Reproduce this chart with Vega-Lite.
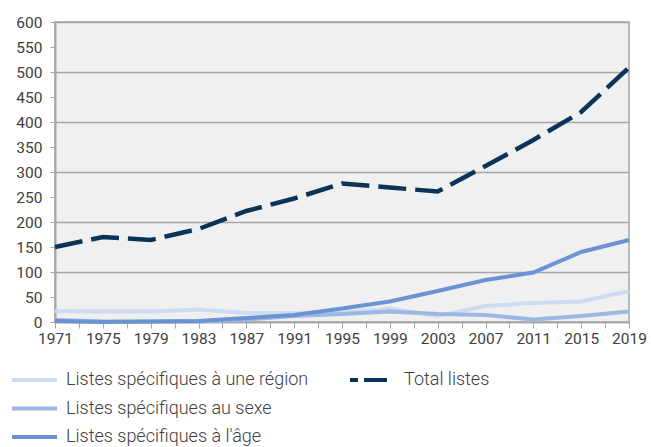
{
  "$schema": "https://vega.github.io/schema/vega-lite/v6.json",
  "width": 574,
  "height": 300,
  "autosize": {"type": "none"},
  "padding": {"left": 55, "top": 22, "right": 22, "bottom": 125},
  "background": "#ffffff",
  "config": {
    "view": {"fill": "#f0f0f0", "stroke": "#a6a6a6", "strokeWidth": 1.5},
    "font": "Roboto",
    "axis": {"labelFont": "Roboto", "labelFontSize": 15.5, "labelColor": "#404040", "titleFontSize": 0},
    "legend": {"labelFont": "Roboto", "labelFontSize": 18, "labelFontWeight": 300, "labelColor": "#404040", "labelLimit": 0}
  },
  "data": {"values": [
    {"year": 1971, "series": "Listes spécifiques à une région", "value": 22},
    {"year": 1975, "series": "Listes spécifiques à une région", "value": 21},
    {"year": 1979, "series": "Listes spécifiques à une région", "value": 21},
    {"year": 1983, "series": "Listes spécifiques à une région", "value": 25},
    {"year": 1987, "series": "Listes spécifiques à une région", "value": 18},
    {"year": 1991, "series": "Listes spécifiques à une région", "value": 18},
    {"year": 1995, "series": "Listes spécifiques à une région", "value": 19},
    {"year": 1999, "series": "Listes spécifiques à une région", "value": 27},
    {"year": 2003, "series": "Listes spécifiques à une région", "value": 12},
    {"year": 2007, "series": "Listes spécifiques à une région", "value": 32},
    {"year": 2011, "series": "Listes spécifiques à une région", "value": 38},
    {"year": 2015, "series": "Listes spécifiques à une région", "value": 41},
    {"year": 2019, "series": "Listes spécifiques à une région", "value": 62},
    {"year": 1971, "series": "Listes spécifiques au sexe", "value": 4},
    {"year": 1975, "series": "Listes spécifiques au sexe", "value": 1},
    {"year": 1979, "series": "Listes spécifiques au sexe", "value": 1},
    {"year": 1983, "series": "Listes spécifiques au sexe", "value": 1},
    {"year": 1987, "series": "Listes spécifiques au sexe", "value": 5},
    {"year": 1991, "series": "Listes spécifiques au sexe", "value": 12},
    {"year": 1995, "series": "Listes spécifiques au sexe", "value": 16},
    {"year": 1999, "series": "Listes spécifiques au sexe", "value": 21},
    {"year": 2003, "series": "Listes spécifiques au sexe", "value": 16},
    {"year": 2007, "series": "Listes spécifiques au sexe", "value": 14},
    {"year": 2011, "series": "Listes spécifiques au sexe", "value": 5},
    {"year": 2015, "series": "Listes spécifiques au sexe", "value": 12},
    {"year": 2019, "series": "Listes spécifiques au sexe", "value": 21},
    {"year": 1971, "series": "Listes spécifiques à l'âge", "value": 2},
    {"year": 1975, "series": "Listes spécifiques à l'âge", "value": 0},
    {"year": 1979, "series": "Listes spécifiques à l'âge", "value": 1},
    {"year": 1983, "series": "Listes spécifiques à l'âge", "value": 2},
    {"year": 1987, "series": "Listes spécifiques à l'âge", "value": 8},
    {"year": 1991, "series": "Listes spécifiques à l'âge", "value": 14},
    {"year": 1995, "series": "Listes spécifiques à l'âge", "value": 27},
    {"year": 1999, "series": "Listes spécifiques à l'âge", "value": 41},
    {"year": 2003, "series": "Listes spécifiques à l'âge", "value": 62},
    {"year": 2007, "series": "Listes spécifiques à l'âge", "value": 84},
    {"year": 2011, "series": "Listes spécifiques à l'âge", "value": 99},
    {"year": 2015, "series": "Listes spécifiques à l'âge", "value": 140},
    {"year": 2019, "series": "Listes spécifiques à l'âge", "value": 164},
    {"year": 1971, "series": "Total listes", "value": 150},
    {"year": 1975, "series": "Total listes", "value": 170},
    {"year": 1979, "series": "Total listes", "value": 164},
    {"year": 1983, "series": "Total listes", "value": 186},
    {"year": 1987, "series": "Total listes", "value": 222},
    {"year": 1991, "series": "Total listes", "value": 247},
    {"year": 1995, "series": "Total listes", "value": 277},
    {"year": 1999, "series": "Total listes", "value": 269},
    {"year": 2003, "series": "Total listes", "value": 261},
    {"year": 2007, "series": "Total listes", "value": 312},
    {"year": 2011, "series": "Total listes", "value": 364},
    {"year": 2015, "series": "Total listes", "value": 420},
    {"year": 2019, "series": "Total listes", "value": 509}
  ]},
  "encoding": {
    "x": {
      "field": "year", "type": "quantitative",
      "scale": {"domain": [1971, 2019], "nice": false, "zero": false},
      "axis": {
        "title": null, "grid": false, "format": "d",
        "values": [1971,1973,1975,1977,1979,1981,1983,1985,1987,1989,1991,1993,1995,1997,1999,2001,2003,2005,2007,2009,2011,2013,2015,2017,2019],
        "labelExpr": "(datum.value - 1971) % 4 == 0 ? datum.label : ''",
        "domainColor": "#a6a6a6", "domainWidth": 1.5,
        "tickColor": "#a6a6a6", "tickSize": 6, "tickWidth": 1,
        "labelPadding": 3, "labelFlush": false, "labelOverlap": false
      }
    },
    "y": {
      "field": "value", "type": "quantitative",
      "scale": {"domain": [0, 600], "nice": false},
      "axis": {
        "title": null,
        "values": [0,50,100,150,200,250,300,350,400,450,500,550,600],
        "grid": true,
        "gridColor": "#a6a6a6",
        "gridWidth": 1.5,
        "gridOpacity": {"condition": {"test": "datum.value % 100 == 0", "value": 1}, "value": 0},
        "domainColor": "#a6a6a6", "domainWidth": 2,
        "tickColor": "#a6a6a6", "tickSize": 5,
        "labelPadding": 8, "labelFlush": false
      }
    }
  },
  "layer": [
    {
      "transform": [{"filter": "datum.series != 'Total listes'"}],
      "mark": {"type": "line", "strokeWidth": 4},
      "encoding": {
        "color": {
          "field": "series", "type": "nominal",
          "scale": {
            "domain": ["Listes spécifiques à une région", "Listes spécifiques au sexe", "Listes spécifiques à l'âge"],
            "range": ["#cddcf2", "#9cb8e3", "#6b93d3"]
          },
          "legend": {
            "title": null, "orient": "none", "legendX": -20, "legendY": 346,
            "direction": "vertical", "symbolType": "M-3.5,0H1", "symbolSize": 400,
            "symbolStrokeWidth": 4, "labelOffset": 7, "rowPadding": 7.5
          }
        }
      }
    },
    {
      "transform": [{"filter": "datum.series == 'Total listes'"}],
      "mark": {"type": "line", "strokeWidth": 4.5, "strokeDash": [28, 9]},
      "encoding": {
        "color": {
          "field": "series", "type": "nominal",
          "scale": {"domain": ["Total listes"], "range": ["#0b3358"]},
          "legend": {
            "title": null, "orient": "none", "legendX": 310, "legendY": 346,
            "symbolType": "M-2.7,0H1", "symbolSize": 400, "symbolStrokeWidth": 4,
            "symbolDash": [8, 6, 24, 100], "labelOffset": 15
          }
        }
      }
    }
  ],
  "resolve": {"scale": {"color": "independent"}, "legend": {"color": "independent"}}
}
